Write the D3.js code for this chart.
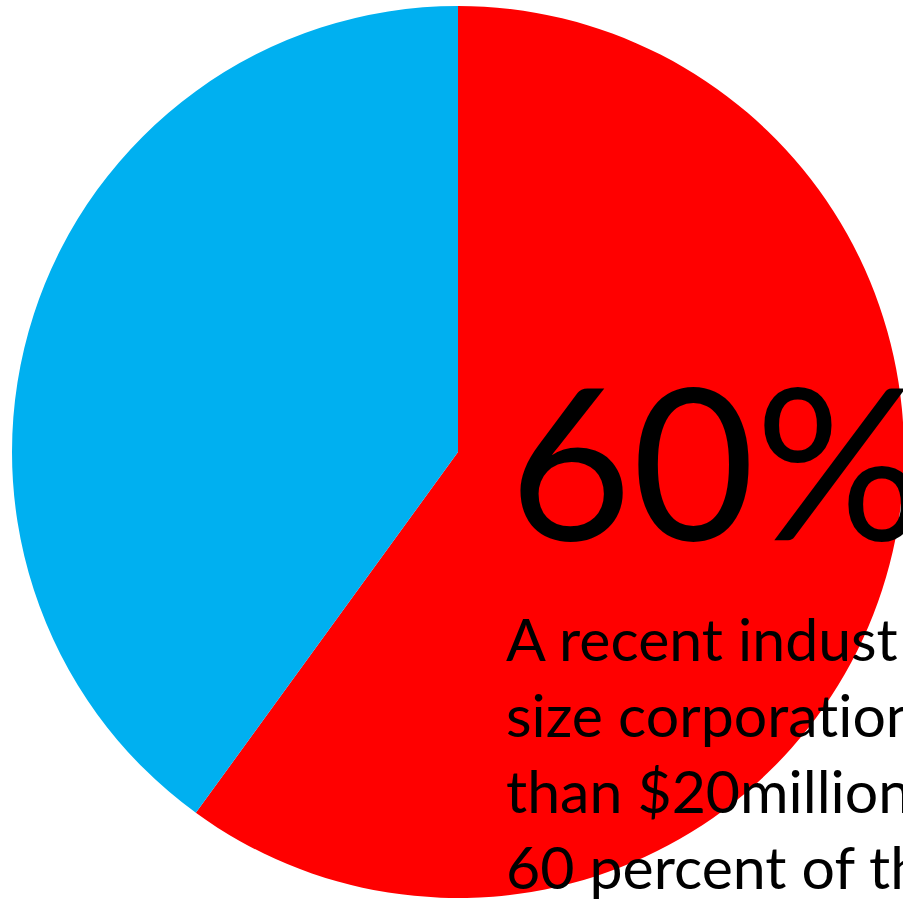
<!DOCTYPE html>
<html>
<head>
<meta charset="utf-8">
<script src="https://cdn.jsdelivr.net/npm/d3@7"></script>
<style>
  body { margin: 0; background: #fff; }
  svg { display: block; }
  text { font-variant-ligatures: none; }
</style>
</head>
<body>
<div id="chart"></div>
<script>
// chart data
var labels = ["Yes", "No"];
var values = [60, 40];
var colors = ["#FF0000", "#00B0F0"];
var bigLabel = "60%";
var noteLines = [
  "A recent indust",
  "size corporation",
  "than $20million",
  "60 percent of th"
];

var width = 903, height = 899;

var svg = d3.select("#chart")
    .append("svg")
    .attr("width", width)
    .attr("height", height);

var cx = 458, cy = 452, radius = 446;

var pie = d3.pie().sort(null).value(d => d);
var arc = d3.arc().innerRadius(0).outerRadius(radius);

var g = svg.append("g")
    .attr("transform", "translate(" + cx + "," + cy + ")");

g.selectAll("path")
    .data(pie(values))
    .enter()
    .append("path")
    .attr("d", arc)
    .attr("fill", (d, i) => colors[i]);

// big percent label
svg.append("text")
    .attr("x", 509)
    .attr("y", 540)
    .attr("font-family", "Lato, 'Open Sans', sans-serif")
    .attr("font-size", 212)
    .attr("fill", "#000")
    .text(bigLabel);

// note text, runs past the page edge like the original slide
svg.append("g")
    .selectAll("text")
    .data(noteLines)
    .enter()
    .append("text")
    .attr("x", 506)
    .attr("y", (d, i) => 661 + i * 76)
    .attr("font-family", "Lato, 'Open Sans', sans-serif")
    .attr("font-size", 59)
    .attr("fill", "#000")
    .text(d => d);
</script>
</body>
</html>
